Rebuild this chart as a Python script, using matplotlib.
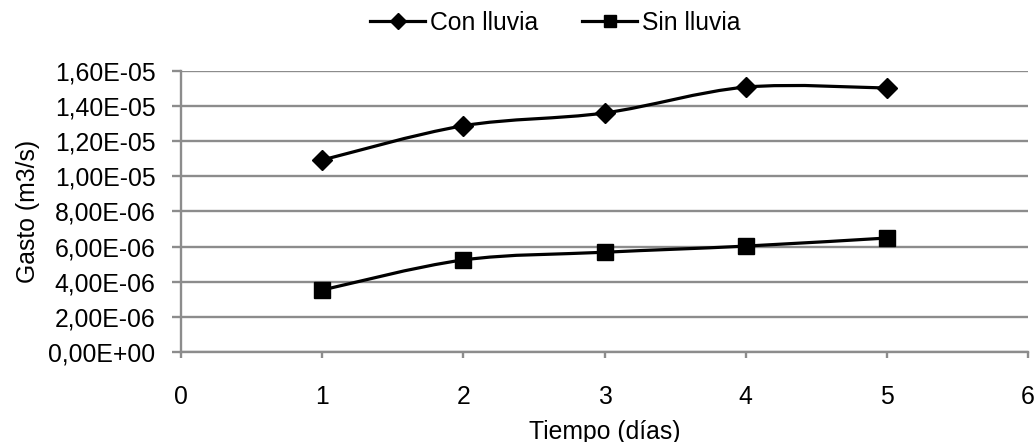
import matplotlib
matplotlib.use("Agg")
import matplotlib.pyplot as plt
from matplotlib.path import Path
from matplotlib.patches import PathPatch
from matplotlib.lines import Line2D
from matplotlib.ticker import FuncFormatter, MultipleLocator

plt.rcParams['font.family'] = ['Liberation Sans', 'DejaVu Sans']

dias = [1, 2, 3, 4, 5]
con_lluvia = [1.093e-05, 1.288e-05, 1.361e-05, 1.508e-05, 1.503e-05]
sin_lluvia = [3.53e-06, 5.24e-06, 5.68e-06, 6.03e-06, 6.49e-06]
series_names = ["Con lluvia", "Sin lluvia"]
x_label = "Tiempo (días)"
y_label = "Gasto (m3/s)"

FS = 17.8
GRID = "#8c8c8c"

fig = plt.figure(figsize=(10.36, 4.42), dpi=100)
ax = fig.add_axes([0.1747, 0.2036, 0.8176, 0.6358])


def smooth_path(xs, ys):
    pts = list(zip(xs, ys))
    n = len(pts)
    verts = [pts[0]]
    codes = [Path.MOVETO]
    for i in range(n - 1):
        p0 = pts[i - 1] if i > 0 else pts[i]
        p1 = pts[i]
        p2 = pts[i + 1]
        p3 = pts[i + 2] if i + 2 < n else pts[i + 1]
        c1 = (p1[0] + (p2[0] - p0[0]) / 6, p1[1] + (p2[1] - p0[1]) / 6)
        c2 = (p2[0] - (p3[0] - p1[0]) / 6, p2[1] - (p3[1] - p1[1]) / 6)
        verts += [c1, c2, p2]
        codes += [Path.CURVE4] * 3
    return Path(verts, codes)


for ys, mk, ms in [(con_lluvia, 'D', 10.5), (sin_lluvia, 's', 12)]:
    patch = PathPatch(smooth_path(dias, ys), facecolor='none', edgecolor='black',
                      lw=2.3, zorder=3, transform=ax.transData)
    ax.add_patch(patch)
    ax.plot(dias, ys, ls='none', marker=mk, ms=ms, color='black', zorder=4)

ax.set_xlim(0, 6)
ax.set_ylim(0, 1.6e-05)
ax.xaxis.set_major_locator(MultipleLocator(1))
ax.yaxis.set_major_locator(MultipleLocator(2e-06))
ax.yaxis.set_major_formatter(FuncFormatter(lambda v, p: f"{v:.2E}".replace('.', ',')))
ax.grid(axis='y', color=GRID, lw=1.7)
ax.set_axisbelow(True)
for s in ['top', 'right']:
    ax.spines[s].set_visible(False)
for s in ['left', 'bottom']:
    ax.spines[s].set_color(GRID)
    ax.spines[s].set_linewidth(1.7)
ax.tick_params(axis='y', direction='out', length=6.5, width=1.7, color=GRID,
               labelsize=FS, pad=12)
ax.tick_params(axis='x', direction='out', length=4.5, width=1.7, color=GRID,
               labelsize=FS, pad=19)
ax.set_xlabel(x_label, fontsize=FS, labelpad=8)
ax.set_ylabel(y_label, fontsize=FS, labelpad=6)

handles = [
    Line2D([], [], color='black', lw=2.3, marker='D', ms=8),
    Line2D([], [], color='black', lw=2.3, marker='s', ms=9),
]
fig.legend(handles, series_names, loc='center', bbox_to_anchor=(0.536, 0.948),
           ncol=2, frameon=False, fontsize=FS, handlelength=2.2,
           handletextpad=0.2, columnspacing=1.8)

fig.savefig("out.png", dpi=100)
